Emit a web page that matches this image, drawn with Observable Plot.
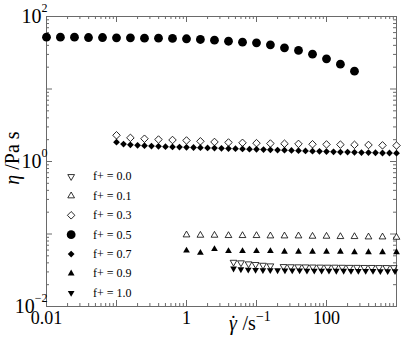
<!DOCTYPE html>
<html><head><meta charset="utf-8">
<script src="https://cdn.jsdelivr.net/npm/d3@7"></script>
<script src="https://cdn.jsdelivr.net/npm/@observablehq/plot@0.6"></script>
<style>
body{margin:0;background:#fff}
svg{display:block}
#chart svg, #chart svg text, #chart svg tspan { font-family: "Liberation Serif", serif !important; }
</style>
</head><body><div id="chart"></div>
<script>
// ---- data ----
const seriesLabels = ["f+ = 0.0", "f+ = 0.1", "f+ = 0.3", "f+ = 0.5", "f+ = 0.7", "f+ = 0.9", "f+ = 1.0"];

const f00X = [4.7, 6.0, 7.7, 9.7, 12.4, 15.8, 24.3, 30.9, 39.4, 50.1, 63.8, 81.3, 103.5, 131.8, 167.9, 213.8, 272.3, 346.7, 441.6, 562.3, 716.1, 912];
const f00Eta = [0.0408, 0.0401, 0.0388, 0.0380, 0.0371, 0.0364, 0.0356, 0.0354, 0.0353, 0.0352, 0.0351, 0.0350, 0.0349, 0.0349, 0.0348, 0.0347, 0.0347, 0.0346, 0.0346, 0.0345, 0.0345, 0.0344];

const f01X = [1, 1.58, 2.51, 3.98, 6.31, 10, 15.8, 25.1, 39.8, 63.1, 100, 158, 251, 398, 631, 1000];
const f01Eta = [0.097, 0.096, 0.096, 0.095, 0.095, 0.095, 0.094, 0.094, 0.094, 0.093, 0.093, 0.092, 0.092, 0.091, 0.091, 0.090];

const f03X = [0.1, 0.158, 0.251, 0.398, 0.631, 1, 1.58, 2.51, 3.98, 6.31, 10, 15.8, 25.1, 39.8, 63.1, 100, 158, 251, 398, 631, 1000];
const f03Eta = [2.30, 2.12, 2.06, 2.01, 1.98, 1.95, 1.90, 1.86, 1.83, 1.81, 1.79, 1.77, 1.76, 1.75, 1.73, 1.72, 1.71, 1.70, 1.69, 1.67, 1.66];

const f05X = [0.01, 0.0158, 0.0251, 0.0398, 0.0631, 0.1, 0.158, 0.251, 0.398, 0.631, 1, 1.58, 2.51, 3.98, 6.31, 10, 15.8, 25.1, 39.8, 63.1, 100, 158, 251];
const f05Eta = [51.8, 51.8, 51.8, 51.3, 51.3, 50.8, 50.8, 50.2, 50.2, 49.8, 49.3, 48.2, 47.1, 45.6, 44.2, 43.4, 40.7, 37.0, 34.0, 30.2, 26.1, 22.0, 17.6];

const f07X = [0.1, 0.126, 0.158, 0.2, 0.251, 0.316, 0.398, 0.501, 0.631, 0.794, 1, 1.26, 1.58, 2, 2.51, 3.16, 3.98, 5.01, 6.31, 7.94, 10, 12.6, 15.8, 20, 25.1, 31.6, 39.8, 50.1, 63.1, 79.4, 100, 126, 158, 200, 251, 316, 398, 501, 631, 794, 1000];
const f07Eta = [1.85, 1.74, 1.70, 1.67, 1.65, 1.63, 1.62, 1.60, 1.59, 1.58, 1.57, 1.56, 1.55, 1.54, 1.53, 1.52, 1.51, 1.50, 1.49, 1.48, 1.47, 1.46, 1.45, 1.44, 1.43, 1.42, 1.41, 1.40, 1.39, 1.38, 1.37, 1.36, 1.35, 1.35, 1.34, 1.33, 1.33, 1.32, 1.31, 1.31, 1.30];

const f09X = [1, 1.58, 2.51, 3.98, 6.31, 10, 15.8, 25.1, 39.8, 63.1, 100, 158, 251, 398, 631, 1000];
const f09Eta = [0.059, 0.055, 0.062, 0.058, 0.058, 0.058, 0.058, 0.057, 0.057, 0.057, 0.057, 0.057, 0.056, 0.056, 0.056, 0.056];

const f10X = [4.70, 5.98, 7.62, 9.70, 12.35, 15.72, 20.0, 25.5, 32.4, 41.3, 52.6, 66.9, 85.2, 108.5, 138.1, 175.8, 223.8, 284.9, 362.7, 461.7, 587.8, 748.3, 952.6];
const f10Eta = [0.0334, 0.0326, 0.0322, 0.0320, 0.0318, 0.0317, 0.0316, 0.0315, 0.0315, 0.0314, 0.0313, 0.0313, 0.0312, 0.0312, 0.0311, 0.0311, 0.0310, 0.0310, 0.0309, 0.0309, 0.0308, 0.0308, 0.0307];

const xTickLabels = [0.01, 1, 100];
const yTickLabels = [0.01, 1, 100];

// ---- styling ----
const seriesX = [f00X, f01X, f03X, f05X, f07X, f09X, f10X];
const seriesEta = [f00Eta, f01Eta, f03Eta, f05Eta, f07Eta, f09Eta, f10Eta];
const styles = [
  {symbol: "triangle", rotate: 180, open: true, r: 2.5},
  {symbol: "triangle", rotate: 0, open: true, r: 2.5},
  {symbol: "square", rotate: 45, open: true, r: 3.0},
  {symbol: "circle", rotate: 0, open: false, r: 4.4},
  {symbol: "square", rotate: 45, open: false, r: 2.7},
  {symbol: "triangle", rotate: 0, open: false, r: 2.5},
  {symbol: "triangle", rotate: 180, open: false, r: 2.5}
];
const font = "Liberation Serif, serif";
const W = 402, H = 340, mL = 46, mR = 6, mT = 16, mB = 34;
const frameW = W - mL - mR, frameH = H - mT - mB;
const axisColor = "#6a6a6a";

// tick positions
const decadesX = [0.01, 0.1, 1, 10, 100, 1000];
const decadesY = [0.01, 0.1, 1, 10, 100];
const minors = ds => ds.slice(0, -1).flatMap(d => d3.range(2, 10).map(k => k * d));
const minorX = minors(decadesX), minorY = minors(decadesY);

function dotMark(data, st) {
  return Plot.dot(data, {
    x: "x", y: "y", symbol: st.symbol, rotate: st.rotate, r: st.r,
    fill: st.open ? "white" : "black",
    stroke: st.open ? "black" : "none",
    strokeWidth: 0.8
  });
}

const tick = {stroke: axisColor, strokeWidth: 1};
const marks = [
  Plot.frame({stroke: axisColor, strokeWidth: 1}),
  Plot.ruleX(decadesX, {...tick, insetTop: frameH - 6}),
  Plot.ruleX(decadesX, {...tick, insetBottom: frameH - 6}),
  Plot.ruleX(minorX, {...tick, insetTop: frameH - 3}),
  Plot.ruleX(minorX, {...tick, insetBottom: frameH - 3}),
  Plot.ruleY(decadesY, {...tick, insetRight: frameW - 6}),
  Plot.ruleY(decadesY, {...tick, insetLeft: frameW - 6}),
  Plot.ruleY(minorY, {...tick, insetRight: frameW - 3}),
  Plot.ruleY(minorY, {...tick, insetLeft: frameW - 3}),
  Plot.axisX({ticks: xTickLabels, tickSize: 0, tickPadding: 5, fontSize: 18, fontFamily: font, fill: "black",
    tickFormat: d => d === 0.01 ? "0.01" : String(d), label: null}),
  Plot.axisY({ticks: yTickLabels, tickSize: 0, tickPadding: -1, fontSize: 20, fontFamily: font, fill: "black",
    tickFormat: d => "10^" + String(Math.round(Math.log10(d))).replace("-", "\u2212"), label: null})
];

seriesLabels.forEach((lab, i) => {
  const data = seriesX[i].map((x, j) => ({x, y: seriesEta[i][j]}));
  marks.push(dotMark(data, styles[i]));
});

// legend inside the frame (positions in data space, one row per series)
const legendRows = seriesLabels.map((label, i) => ({label, i, ly: Math.pow(10, -0.207 - 0.2676 * i)}));
legendRows.forEach((row, i) => {
  marks.push(dotMark([{x: 0.0225, y: row.ly}], styles[i]));
});
marks.push(Plot.text(legendRows, {x: () => 0.046, y: "ly", text: "label", textAnchor: "start",
  fontSize: 12, fontFamily: font, fill: "black"}));

const chart = Plot.plot({
  width: W, height: H,
  marginLeft: mL, marginRight: mR, marginTop: mT, marginBottom: mB,
  x: {type: "log", domain: [0.01, 1000]},
  y: {type: "log", domain: [0.01, 100]},
  style: {fontFamily: font, background: "white", overflow: "visible"},
  marks
});

// superscripts on y tick labels
chart.querySelectorAll('g[aria-label="y-axis tick label"] text').forEach(t => {
  const [base, exp] = t.textContent.split("^");
  t.textContent = base;
  const ts = document.createElementNS("http://www.w3.org/2000/svg", "tspan");
  ts.setAttribute("dy", "-11");
  ts.setAttribute("font-size", "12");
  ts.textContent = exp;
  t.appendChild(ts);
});

const svg = d3.select(chart);
const yt = svg.append("text")
  .attr("transform", "translate(19,158) rotate(-90)")
  .attr("text-anchor", "middle").attr("font-family", font).attr("font-size", 20).attr("fill", "black");
yt.append("tspan").attr("font-style", "italic").text("\u03B7");
yt.append("tspan").text(" /Pa s");

const xt = svg.append("text")
  .attr("x", 229).attr("y", 330).attr("text-anchor", "start")
  .attr("font-family", font).attr("font-size", 20).attr("fill", "black");
xt.append("tspan").attr("font-style", "italic").text("\u03B3");
xt.append("tspan").attr("dx", -7).text("\u02D9");
xt.append("tspan").attr("dx", 1).text(" /s");
xt.append("tspan").attr("dy", "-9").attr("font-size", 14).text("\u22121");

document.getElementById("chart").appendChild(chart);
</script></body></html>
